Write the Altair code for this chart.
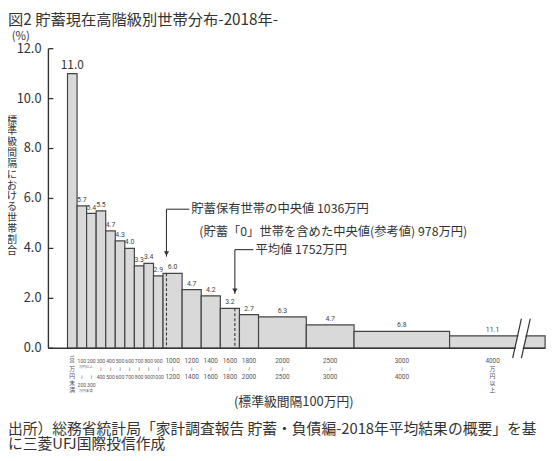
import altair as alt
import pandas as pd

# ---------------- data ----------------
bin_lo = [0, 100, 200, 300, 400, 500, 600, 700, 800, 900, 1000, 1200, 1400, 1600, 1800, 2000, 2500, 3000, 4000]
bin_hi = [100, 200, 300, 400, 500, 600, 700, 800, 900, 1000, 1200, 1400, 1600, 1800, 2000, 2500, 3000, 4000, 5000]
# bar heights: share per standard (100万円) interval, %
bar_height = [11.0, 5.7, 5.4, 5.5, 4.7, 4.3, 4.0, 3.3, 3.4, 2.9, 3.0, 2.35, 2.1, 1.6, 1.35, 1.26, 0.94, 0.68, 0.5]
# printed household shares, %
bar_share = [11.0, 5.7, 5.4, 5.5, 4.7, 4.3, 4.0, 3.3, 3.4, 2.9, 6.0, 4.7, 4.2, 3.2, 2.7, 6.3, 4.7, 6.8, 11.1]
y_ticks = [0, 2, 4, 6, 8, 10, 12]
median_saving = 1036     # 貯蓄保有世帯の中央値 (万円)
median_all = 978         # 貯蓄「0」世帯を含めた中央値 (万円)
mean_saving = 1752       # 平均値 (万円)

title_text = "図2 貯蓄現在高階級別世帯分布-2018年-"
y_title = "標準級間隔における世帯割合"
x_title = "(標準級間隔100万円)"
source1 = "出所）総務省統計局「家計調査報告 貯蓄・負債編-2018年平均結果の概要」を基"
source2 = "に三菱UFJ国際投信作成"

JP = "Noto Sans CJK JP"
NUM = "Roboto"
TXT = "#333333"
OPEN_CENTER = 4450
X_MIN, X_MAX = -200, 5000

xs = alt.Scale(domain=[X_MIN, X_MAX], nice=False, zero=False)
ys = alt.Scale(domain=[0, 12], nice=False, zero=True)

df = pd.DataFrame({"lo": bin_lo, "hi": bin_hi, "h": bar_height, "share": bar_share})
df["mid"] = (df["lo"] + df["hi"]) / 2
df.loc[df.index[-1], "mid"] = OPEN_CENTER
df["lbl"] = df["share"].map(lambda v: f"{v:.1f}")
df["lo_s"] = df["lo"].astype(str)
df["hi_s"] = df["hi"].astype(str)

X = lambda f: alt.X(f, scale=xs, axis=None)
Y = lambda f: alt.Y(f, scale=ys, axis=None)

bars = alt.Chart(df).mark_rect(fill="#d9d9d9", stroke="#444444", strokeWidth=1.2).encode(
    x=X("lo:Q"), x2="hi:Q", y=Y("h:Q"), y2=alt.datum(0))

# ---- axes drawn by hand ----
yt = pd.DataFrame({"v": y_ticks})
yt["s"] = yt["v"].map(lambda v: f"{v:.1f}")
ytick_marks = alt.Chart(yt).mark_rule(color=TXT, strokeWidth=1.3).encode(
    y=Y("v:Q"), x=alt.value(0), x2=alt.value(5))
ytick_labels = alt.Chart(yt).mark_text(fontSize=13, font=JP, color=TXT, align="right", baseline="middle").encode(
    y=Y("v:Q"), x=alt.value(-7), text="s:N")
y_axis_line = alt.Chart(pd.DataFrame({"a": [0], "b": [12]})).mark_rule(color=TXT, strokeWidth=1.4).encode(
    y=Y("a:Q"), y2="b:Q", x=alt.value(0))
x_axis_line = alt.Chart(pd.DataFrame({"a": [X_MIN], "b": [X_MAX], "z": [0]})).mark_rule(color=TXT, strokeWidth=1.4).encode(
    x=X("a:Q"), x2="b:Q", y=Y("z:Q"))

lbl_big = alt.Chart(df.iloc[:1]).mark_text(fontSize=12, font=JP, color=TXT, baseline="bottom", dy=-2).encode(
    x=X("mid:Q"), y=Y("h:Q"), text="lbl:N")
lbl_small = alt.Chart(df.iloc[1:]).mark_text(fontSize=7, font=NUM, color="#444", baseline="bottom", dy=-3).encode(
    x=X("mid:Q"), y=Y("h:Q"), text="lbl:N")

# ---- x tick labels ----
narrow = df.iloc[3:10]
wide = df.iloc[10:18]
special = df.iloc[1:3]
first = df.iloc[:1]
last = df.iloc[18:]


def txt(data, field, ypx, size, **kw):
    return alt.Chart(data).mark_text(fontSize=size, font=NUM, color="#555", baseline="middle", **kw).encode(
        x=X("mid:Q"), y=alt.value(ypx), text=field)


def tilde(data, ypx):
    return alt.Chart(data).mark_text(fontSize=6, font="DejaVu Sans", color="#666", baseline="middle", text="≀").encode(
        x=X("mid:Q"), y=alt.value(ypx))


def stack(data, chars, ytop):
    return alt.Chart(data).mark_text(fontSize=6, font=JP, color="#555", baseline="top", lineBreak="\n",
                                     lineHeight=7, text="\n".join(chars)).encode(
        x=X("mid:Q"), y=alt.value(ytop))


xl = [
    txt(narrow, "lo_s:N", 317, 5.2), txt(narrow, "hi_s:N", 333, 5.2), tilde(narrow, 325),
    txt(wide, "lo_s:N", 317, 6.5), txt(wide, "hi_s:N", 333, 6.5), tilde(wide, 325),
    txt(special, "lo_s:N", 317, 5.2), txt(special, "hi_s:N", 341, 5.2), tilde(special, 333),
    alt.Chart(special.iloc[:1]).mark_text(fontSize=3.5, font=JP, color="#666", baseline="middle", text="万円以上", dx=4).encode(
        x=X("mid:Q"), y=alt.value(323)),
    alt.Chart(special.iloc[:1]).mark_text(fontSize=3.5, font=JP, color="#666", baseline="middle", text="万円未満", dx=4).encode(
        x=X("mid:Q"), y=alt.value(347)),
    alt.Chart(first).mark_text(fontSize=5.2, font=NUM, color="#555", baseline="middle", align="center", angle=90).encode(
        x=X("mid:Q"), y=alt.value(315), text="hi_s:N"),
    stack(first, "万円未満", 322),
    txt(last, "lo_s:N", 317, 6.5),
    stack(last, "万円以上", 322),
]

# ---- break symbol on the open-ended bin ----
brk = pd.DataFrame({"x": [4798, 4752, 4845], "x2": [4706, 4660, 4752], "y": [1.184] * 3, "y2": [-0.395] * 3})
brk_white = alt.Chart(brk.iloc[:1]).mark_rule(color="white", strokeWidth=7).encode(
    x=X("x:Q"), x2="x2:Q", y=Y("y:Q"), y2="y2:Q")
brk_lines = alt.Chart(brk.iloc[1:]).mark_rule(color=TXT, strokeWidth=1.2).encode(
    x=X("x:Q"), x2="x2:Q", y=Y("y:Q"), y2="y2:Q")

# ---- median / mean annotations ----
ann = pd.DataFrame({
    "x": [median_saving, mean_saving],
    "bar_top": [3.0, 1.6],
    "arrow_top": [5.57, 3.95],
    "tip": [3.67, 2.17],
    "hx2": [1275, 1946],
})
ann["tipc"] = ann["tip"] + 0.13
dashes = alt.Chart(ann).mark_rule(color=TXT, strokeWidth=1.1, strokeDash=[3, 2]).encode(
    x=X("x:Q"), y=Y("bar_top:Q"), y2=alt.datum(0))
stems = alt.Chart(ann).mark_rule(color=TXT, strokeWidth=1.1).encode(
    x=X("x:Q"), y=Y("arrow_top:Q"), y2="tip:Q")
heads = alt.Chart(ann).mark_point(shape="triangle-down", filled=True, color=TXT, size=28, opacity=1).encode(
    x=X("x:Q"), y=Y("tipc:Q"))
hbars = alt.Chart(ann).mark_rule(color=TXT, strokeWidth=1.1).encode(
    x=X("x:Q"), x2="hx2:Q", y=Y("arrow_top:Q"))

ann_txt = pd.DataFrame({
    "x": [1296, 1379, 1967],
    "y": [5.57, 4.66, 3.95],
    "t": [f"貯蓄保有世帯の中央値 {median_saving}万円",
          f"(貯蓄「0」世帯を含めた中央値(参考値) {median_all}万円)",
          f"平均値 {mean_saving}万円"],
})
ann_text = alt.Chart(ann_txt).mark_text(fontSize=12.5, font=JP, color=TXT, align="left", baseline="middle").encode(
    x=X("x:Q"), y=Y("y:Q"), text="t:N")


# ---- free texts ----
def free(t, x, y, size, align="left", baseline="middle", **kw):
    return alt.Chart(pd.DataFrame({"t": [t]})).mark_text(fontSize=size, font=JP, color=TXT, align=align,
                                                          baseline=baseline, **kw).encode(
        x=alt.value(x), y=alt.value(y), text="t:N")


texts = [
    free(title_text, -41, -29, 15.5),
    free("(%)", -28, -12, 11.5, align="center"),
    free("\n".join(y_title), -37, 68, 10.5, align="center", baseline="top", lineBreak="\n", lineHeight=11),
    free(x_title, 249, 359, 13, align="center"),
    free(source1, -41, 386, 15),
    free(source2, -41, 401, 15),
]

chart = alt.layer(bars, y_axis_line, x_axis_line, ytick_marks, ytick_labels, dashes, lbl_big, lbl_small, *xl,
                  brk_white, brk_lines, stems, heads, hbars, ann_text, *texts).properties(
    width=504, height=304,
    padding={"left": 41, "top": 38, "right": 7, "bottom": 103},
    autosize=alt.AutoSizeParams(type="none"),
    background="white",
).configure_view(stroke=None)

chart.save("out.html", embed_options={"renderer": "svg", "actions": False})
